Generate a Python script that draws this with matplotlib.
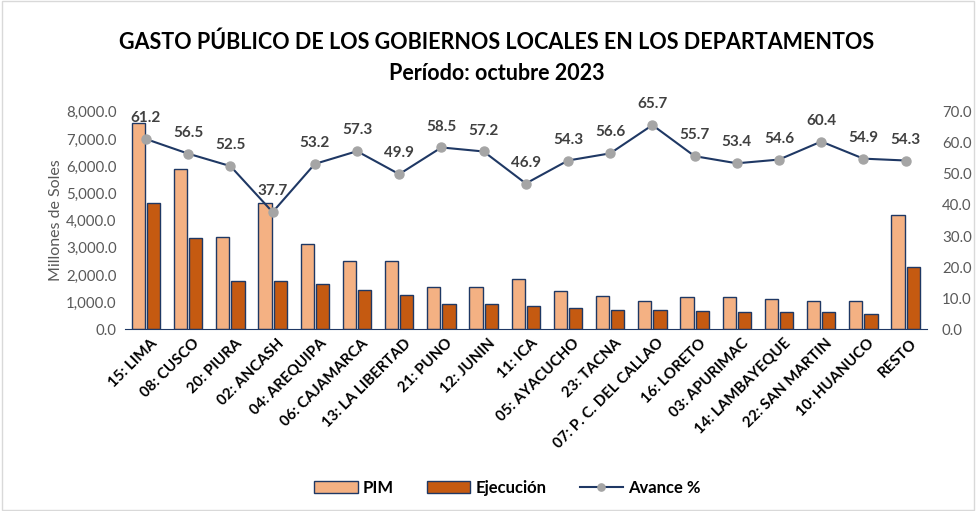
import matplotlib.pyplot as plt
from matplotlib.patches import Rectangle
import numpy as np

plt.rcParams['font.family'] = ['Lato', 'DejaVu Sans']

departamentos = ['15: LIMA', '08: CUSCO', '20: PIURA', '02: ANCASH', '04: AREQUIPA',
                 '06: CAJAMARCA', '13: LA LIBERTAD', '21: PUNO', '12: JUNIN', '11: ICA',
                 '05: AYACUCHO', '23: TACNA', '07: P. C. DEL CALLAO', '16: LORETO',
                 '03: APURIMAC', '14: LAMBAYEQUE', '22: SAN MARTIN', '10: HUANUCO', 'RESTO']
pim = [7574, 5893, 3393, 4632, 3125, 2500, 2500, 1555, 1555, 1860,
       1408, 1235, 1040, 1187, 1187, 1125, 1040, 1040, 4213]
ejecucion = [4632, 3346, 1776, 1776, 1665, 1456, 1250, 941, 941, 868,
             772, 721, 700, 684, 625, 625, 625, 562, 2290]
avance = [61.2, 56.5, 52.5, 37.7, 53.2, 57.3, 49.9, 58.5, 57.2, 46.9,
          54.3, 56.6, 65.7, 55.7, 53.4, 54.6, 60.4, 54.9, 54.3]

navy = '#1F3864'
gray_txt = '#595959'

fig = plt.figure(figsize=(9.76, 5.11), dpi=100)
fig.patches.append(Rectangle((0.002, 0.002), 0.996, 0.996, transform=fig.transFigure,
                             fill=False, edgecolor='#D9D9D9', linewidth=1))
ax = fig.add_axes([0.128, 0.3556, 0.8215, 0.4258])
x = np.arange(len(departamentos))
w = 0.31
ax.bar(x - 0.18, pim, w, color='#F4B183', edgecolor=navy, linewidth=1, label='PIM')
ax.bar(x + 0.18, ejecucion, w, color='#C55A11', edgecolor=navy, linewidth=1, label='Ejecución')
ax.set_xlim(-0.5, len(departamentos) - 0.5)
ax.set_ylim(0, 8000)
ax.set_yticks(np.arange(0, 8001, 1000))
ax.set_yticklabels([f'{v:,.1f}' for v in np.arange(0, 8001, 1000)])
ax.set_xticks(x + 0.1)
ax.set_xticklabels(departamentos, rotation=45, ha='right', rotation_mode='anchor',
                   fontsize=10.8, fontweight='bold')
ax.tick_params(axis='y', length=0, labelsize=10.8, labelcolor=gray_txt, pad=6)
ax.tick_params(axis='x', length=0, pad=5)
ax.set_ylabel('Millones de Soles', color=gray_txt, fontsize=11.5, labelpad=2)
for s in ['left', 'right', 'top']:
    ax.spines[s].set_visible(False)
ax.spines['bottom'].set_color(navy)

ax2 = ax.twinx()
ax2.plot(x, avance, color=navy, linewidth=1.5, marker='o', markersize=6.5,
         markerfacecolor='#A5A5A5', markeredgecolor='#A5A5A5', label='Avance %')
for xi, v in zip(x, avance):
    ax2.annotate(f'{v:.1f}', (xi, v), xytext=(0, 10), textcoords='offset points',
                 ha='center', va='bottom', fontsize=11, fontweight='bold', color='#404040')
ax2.set_ylim(0, 70)
ax2.set_yticks(np.arange(0, 71, 10))
ax2.set_yticklabels([f'{v:.1f}' for v in np.arange(0, 71, 10)])
ax2.tick_params(axis='y', length=0, labelsize=10.8, labelcolor=gray_txt, pad=11)
for s in ['left', 'right', 'top', 'bottom']:
    ax2.spines[s].set_visible(False)

fig.text(0.509, 0.918, 'GASTO PÚBLICO DE LOS GOBIERNOS LOCALES EN LOS DEPARTAMENTOS',
         ha='center', va='center', fontsize=15.5, fontweight='bold')
fig.text(0.509, 0.857, 'Período: octubre 2023', ha='center', va='center',
         fontsize=15.5, fontweight='bold')

h1, l1 = ax.get_legend_handles_labels()
h2, l2 = ax2.get_legend_handles_labels()
fig.legend(h1 + h2, l1 + l2, loc='center', bbox_to_anchor=(0.52, 0.045), ncol=3,
           frameon=False, prop={'size': 12, 'weight': 'bold'}, handlelength=2.6,
           columnspacing=2.0, handletextpad=0.3, markerscale=0.8)

fig.savefig('out.png', dpi=100)
